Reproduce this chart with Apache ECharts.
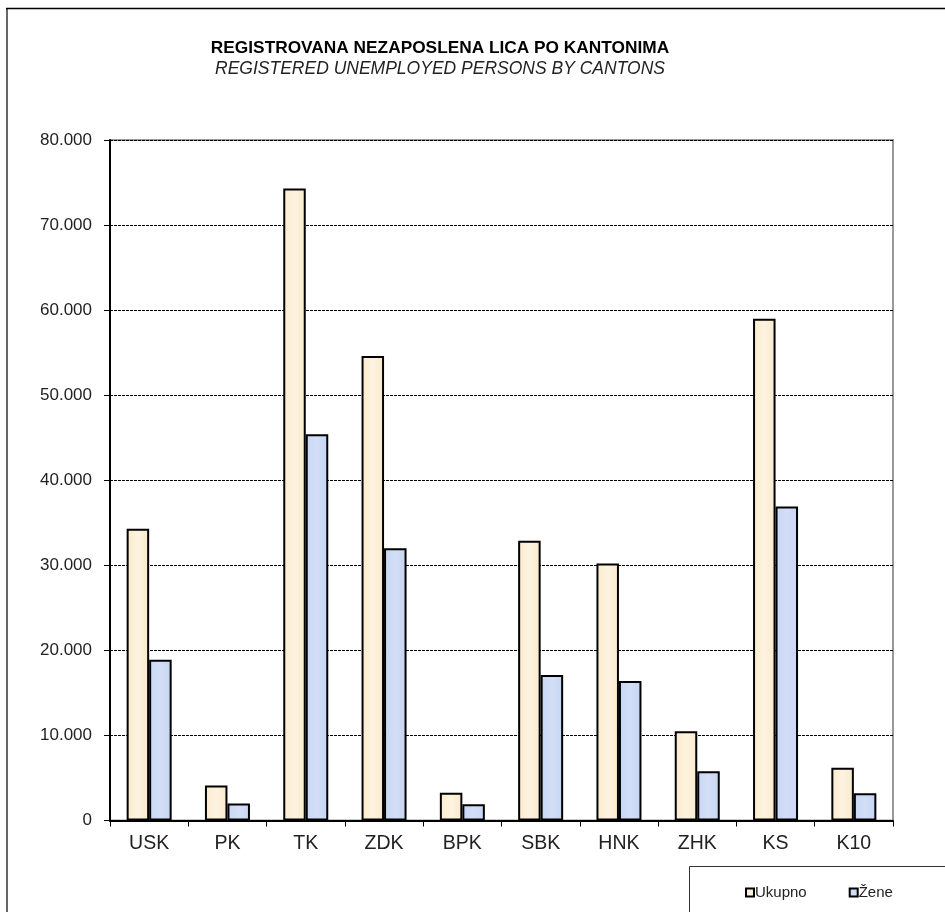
<!DOCTYPE html>
<html>
<head>
<meta charset="utf-8">
<script src="https://cdn.jsdelivr.net/npm/echarts@6/dist/echarts.min.js"></script>
<style>
html,body{margin:0;padding:0;background:#fff;}
#chart{width:945px;height:912px;}
</style>
</head>
<body>
<div id="chart"></div>
<script>
const categories = ['USK','PK','TK','ZDK','BPK','SBK','HNK','ZHK','KS','K10'];
const ukupno = [34300, 4100, 74300, 54600, 3250, 32900, 30200, 10500, 59000, 6200];
const zene   = [18900, 2000, 45400, 32000, 1900, 17100, 16400, 5800, 36900, 3200];
const seriesNames = ['Ukupno', 'Žene'];
const titleText = 'REGISTROVANA NEZAPOSLENA LICA PO KANTONIMA';
const subtitleText = 'REGISTERED UNEMPLOYED PERSONS BY CANTONS';

function fmt(v){
  return String(v).replace(/\B(?=(\d{3})+(?!\d))/g, '.');
}

const chart = echarts.init(document.getElementById('chart'));
const font = 'Liberation Sans, Arial, sans-serif';
chart.setOption({
  animation: false,
  backgroundColor: '#fff',
  title: {
    text: titleText,
    subtext: subtitleText,
    left: 435,
    textAlign: 'center',
    top: 35,
    itemGap: 3,
    textStyle: {fontFamily: font, fontSize: 17.3, fontWeight: 'bold', color: '#000'},
    subtextStyle: {fontFamily: font, fontSize: 17.5, fontStyle: 'italic', color: '#222'}
  },
  legend: {
    data: seriesNames,
    left: 740,
    top: 880,
    icon: 'rect',
    itemWidth: 8,
    itemHeight: 8,
    itemGap: 42,
    textStyle: {fontFamily: font, fontSize: 15, color: '#222', padding: [0,0,0,-4]},
    itemStyle: {borderColor: '#000', borderWidth: 2}
  },
  grid: {
    left: 110, right: 52, top: 140, bottom: 91.5,
    show: true, borderColor: '#999', borderWidth: 2, backgroundColor: 'transparent'
  },
  xAxis: {
    type: 'category',
    data: categories,
    axisLine: {lineStyle: {color: '#000', width: 2}},
    axisTick: {show: true, alignWithLabel: false, length: 6, lineStyle: {color: '#000', width: 1}},
    axisLabel: {fontFamily: font, fontSize: 19.5, color: '#222', margin: 13}
  },
  yAxis: {
    type: 'value',
    min: 0, max: 80000, interval: 10000,
    axisLine: {show: true, lineStyle: {color: '#000', width: 2}},
    axisTick: {show: true, length: 6, lineStyle: {color: '#000', width: 1}},
    axisLabel: {fontFamily: font, fontSize: 17, color: '#222', margin: 18, formatter: fmt},
    splitLine: {show: true, lineStyle: {color: '#000', width: 1, type: [3, 1]}}
  },
  series: [
    {
      name: seriesNames[0], type: 'bar', data: ukupno,
      barWidth: 22.5, barGap: '0%',
      itemStyle: {
        color: new echarts.graphic.LinearGradient(0,0,1,0,[
          {offset:0,color:'#FBEBCD'},{offset:0.5,color:'#FDF3E0'},{offset:1,color:'#FAEACB'}]),
        borderColor: '#000', borderWidth: 2
      }
    },
    {
      name: seriesNames[1], type: 'bar', data: zene,
      barWidth: 22.5, barGap: '0%',
      itemStyle: {
        color: new echarts.graphic.LinearGradient(0,0,1,0,[
          {offset:0,color:'#C7D7F4'},{offset:0.5,color:'#D3DEF6'},{offset:1,color:'#C5D5F3'}]),
        borderColor: '#000', borderWidth: 2
      }
    }
  ],
  graphic: [
    {type: 'line', shape: {x1: 7, y1: 8, x2: 7, y2: 912}, style: {stroke: '#666', lineWidth: 2}},
    {type: 'line', shape: {x1: 6, y1: 8.5, x2: 945, y2: 8.5}, style: {stroke: '#000', lineWidth: 1.5}},
    {type: 'rect', shape: {x: 689.5, y: 866.5, width: 260, height: 60}, style: {fill: 'none', stroke: '#333', lineWidth: 1}, z: -1}
  ]
});
</script>
</body>
</html>
